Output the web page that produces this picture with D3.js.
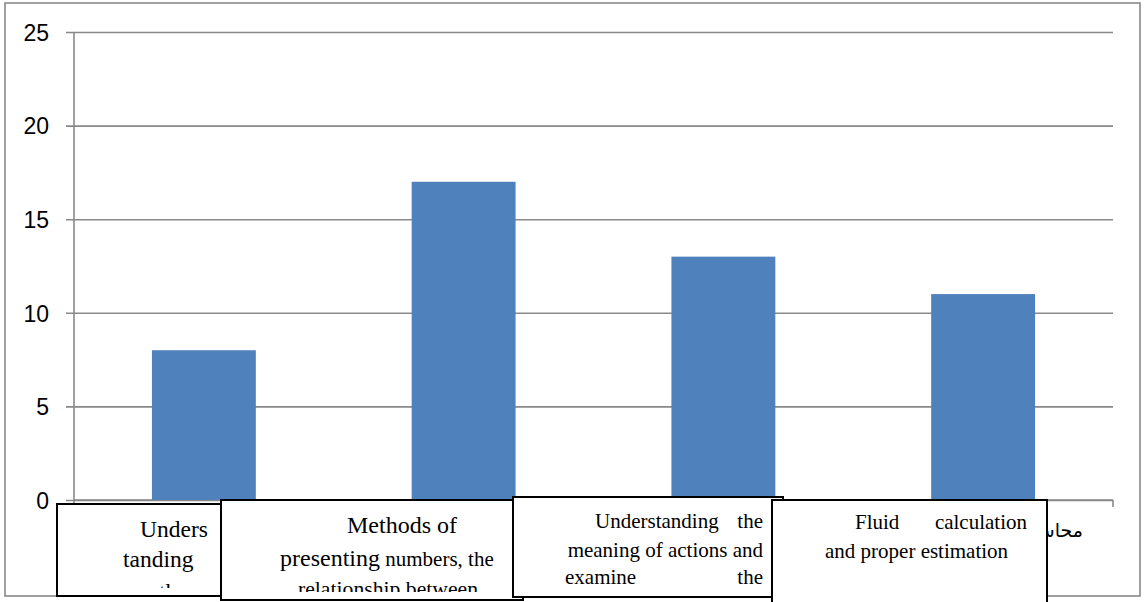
<!DOCTYPE html>
<html>
<head>
<meta charset="utf-8">
<script src="https://cdn.jsdelivr.net/npm/d3@7"></script>
<style>
  html, body { margin: 0; padding: 0; background: #fff; }
  svg { display: block; }
</style>
</head>
<body>
<svg id="chart" width="1144" height="602"></svg>
<script>
// Chart data
const categories = [
  "Understanding numbers",
  "Methods of presenting numbers",
  "Understanding the meaning of actions",
  "Fluid calculation and proper estimation"
];
const values = [8, 17, 13, 11];
const yTickValues = [0, 5, 10, 15, 20, 25];
const arabicLabel = "محاسبة";

const svg = d3.select("#chart");
const plot = { left: 74, right: 1113, top: 32, bottom: 500 };

const gridColor = "#898989";
const barColor = "#4f81bd";

// Outer chart frame
svg.append("rect")
  .attr("x", 5).attr("y", 3)
  .attr("width", 1135).attr("height", 593)
  .attr("fill", "#fff")
  .attr("stroke", gridColor).attr("stroke-width", 1.6);

const x = d3.scaleBand()
  .domain(categories)
  .range([plot.left, plot.right])
  .paddingInner(0.6)
  .paddingOuter(0.3);

const y = d3.scaleLinear()
  .domain([0, 25])
  .range([plot.bottom, plot.top]);

// Y axis with gridlines
const yAxis = d3.axisLeft(y)
  .tickValues(yTickValues)
  .tickSize(-(plot.right - plot.left))
  .tickPadding(25)
  .tickFormat(d3.format("d"));

const gy = svg.append("g")
  .attr("transform", `translate(${plot.left},0)`)
  .call(yAxis);
gy.select(".domain").remove();
gy.selectAll(".tick line")
  .attr("x1", -8)
  .attr("stroke", gridColor).attr("stroke-width", 1.6);
gy.selectAll(".tick text")
  .attr("font-family", "'Liberation Sans', Arial, sans-serif")
  .attr("font-size", 23)
  .attr("fill", "#000")
  .attr("x", -25)
  .attr("dy", "0.36em");

// Vertical axis line
svg.append("line")
  .attr("x1", plot.left).attr("x2", plot.left)
  .attr("y1", plot.top).attr("y2", plot.bottom)
  .attr("stroke", gridColor).attr("stroke-width", 1.6);

// Category axis: baseline with tick marks between categories
const step = x.step();
const bounds = d3.range(categories.length + 1).map(i => plot.left + i * step);
svg.append("line")
  .attr("x1", plot.left).attr("x2", plot.right)
  .attr("y1", plot.bottom).attr("y2", plot.bottom)
  .attr("stroke", gridColor).attr("stroke-width", 1.6);
svg.append("g").selectAll("line")
  .data(bounds)
  .join("line")
  .attr("x1", d => d).attr("x2", d => d)
  .attr("y1", plot.bottom).attr("y2", plot.bottom + 7)
  .attr("stroke", gridColor).attr("stroke-width", 1.6);

// Bars
svg.append("g").selectAll("rect")
  .data(values)
  .join("rect")
  .attr("x", (d, i) => x(categories[i]))
  .attr("y", d => y(d))
  .attr("width", x.bandwidth())
  .attr("height", d => y(0) - y(d))
  .attr("fill", barColor);

// Arabic category label, partly covered by the text boxes
svg.append("text")
  .attr("x", 1083).attr("y", 537)
  .attr("text-anchor", "start")
  .attr("direction", "rtl")
  .attr("font-family", "'DejaVu Sans', sans-serif")
  .attr("font-size", 19)
  .attr("fill", "#000")
  .text(arabicLabel);

// English caption boxes laid over the category axis
const serif = "'Liberation Serif', 'Times New Roman', serif";
const boxes = [
  { x: 57, y: 504, w: 175, h: 92, clipB: 588,
    words: [
      { t: "Unders", x: 140, y: 537, size: 23.5 },
      { t: "tanding", x: 123, y: 567, size: 23.5 },
      { t: "the", x: 159, y: 600, size: 23.5 }
    ] },
  { x: 221, y: 500, w: 302, h: 100, clipB: 592,
    words: [
      { t: "Methods of", x: 347, y: 533, size: 24 },
      { t: "presenting", x: 280, y: 566, size: 24,
        tail: { t: " numbers, the", size: 21 } },
      { t: "relationship between", x: 298, y: 596, size: 21.7 }
    ] },
  { x: 513, y: 497, w: 270, h: 100, clipB: 594,
    words: [
      { t: "Understanding", x: 595, y: 528, size: 21 },
      { t: "the", x: 763, y: 528, size: 21, anchor: "end" },
      { t: "meaning of actions and", x: 763, y: 557, size: 21, anchor: "end" },
      { t: "examine", x: 565, y: 584, size: 21 },
      { t: "the", x: 763, y: 584, size: 21, anchor: "end" }
    ] },
  { x: 772, y: 500, w: 275, h: 110, clipB: 602,
    words: [
      { t: "Fluid", x: 855, y: 529, size: 21 },
      { t: "calculation", x: 1027, y: 529, size: 21, anchor: "end" },
      { t: "and proper estimation", x: 825, y: 558, size: 21 }
    ] }
];

const defs = svg.append("defs");
boxes.forEach((b, i) => {
  defs.append("clipPath").attr("id", "boxclip" + i)
    .append("rect")
    .attr("x", b.x + 2).attr("y", b.y + 2)
    .attr("width", b.w - 4).attr("height", b.clipB - b.y - 2);

  const g = svg.append("g");
  g.append("rect")
    .attr("x", b.x).attr("y", b.y)
    .attr("width", b.w).attr("height", b.h)
    .attr("fill", "#fff")
    .attr("stroke", "#000").attr("stroke-width", 2);

  const tg = g.append("g").attr("clip-path", `url(#boxclip${i})`);
  b.words.forEach(w => {
    const t = tg.append("text")
      .attr("x", w.x).attr("y", w.y)
      .attr("text-anchor", w.anchor || "start")
      .attr("font-family", serif)
      .attr("font-size", w.size)
      .attr("fill", "#000");
    t.append("tspan").text(w.t);
    if (w.tail) {
      t.append("tspan").attr("font-size", w.tail.size)
        .attr("xml:space", "preserve")
        .style("white-space", "pre")
        .text(w.tail.t);
    }
  });
});
</script>
</body>
</html>
